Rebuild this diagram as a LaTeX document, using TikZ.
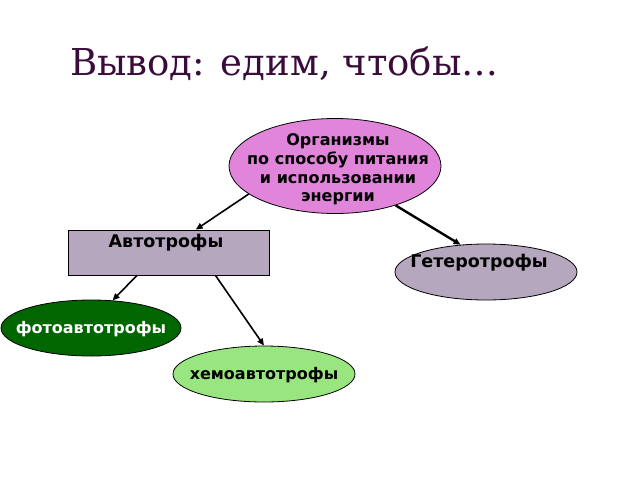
\documentclass[tikz,border=0pt]{standalone}
\usepackage{fontspec}
\setmainfont{DejaVu Sans}
\newfontfamily\titlefont{DejaVu Serif}
\usetikzlibrary{shapes.geometric,arrows.meta}
\definecolor{titlecol}{HTML}{3A0C3A}
\definecolor{orgfill}{HTML}{E085D9}
\definecolor{greyfill}{HTML}{B4A7BE}
\definecolor{darkgr}{HTML}{006600}
\definecolor{lightgr}{HTML}{99E680}
\tikzset{
  oval/.style={ellipse, draw=black, line width=0.8pt, inner sep=0pt},
  lbl/.style={font=\fontsize{16}{18.8}\selectfont\bfseries, align=center, inner sep=0pt},
  biglbl/.style={lbl, font=\fontsize{17.5}{20}\selectfont\bfseries},
  conn/.style={line width=1.6pt, -{Triangle[length=7pt,width=6pt]}},
}
\begin{document}
\begin{tikzpicture}[x=1pt,y=-1pt]
\useasboundingbox (0,0) rectangle (640,480);
\node[anchor=base west, text=titlecol, font=\titlefont\fontsize{37}{44}\selectfont, inner sep=0pt] (title) at (70,75) {Вывод: едим, чтобы…};
\node[oval, fill=orgfill, minimum width=212pt, minimum height=95pt] (org) at (335,166) {};
\node[lbl] (orgtxt) at (338,169.5) {Организмы\\по способу питания\\и использовании\\энергии};
\node[draw=black, line width=0.8pt, fill=greyfill, minimum width=201pt, minimum height=45pt, inner sep=0pt] (auto) at (168.5,252.5) {};
\node[biglbl] (autotxt) at (166,243) {Автотрофы};
\node[oval, fill=greyfill, minimum width=182pt, minimum height=56pt] (het) at (486,272) {};
\node[biglbl] (hettxt) at (479,263) {Гетеротрофы};
\node[oval, fill=darkgr, minimum width=180pt, minimum height=56pt] (photo) at (91,328) {};
\node[lbl, text=white] (phototxt) at (91,329) {фотоавтотрофы};
\node[oval, fill=lightgr, minimum width=182pt, minimum height=56pt] (chemo) at (264,374) {};
\node[lbl] (chemotxt) at (264,375) {хемоавтотрофы};
\draw[conn] (org.198) -- (auto.40);
\draw[conn, line width=2.4pt] (org.-33) -- (het.133);
\draw[conn] (auto.216) -- (photo.52);
\draw[conn] (auto.-26) -- (chemo.north);
\end{tikzpicture}
\end{document}
